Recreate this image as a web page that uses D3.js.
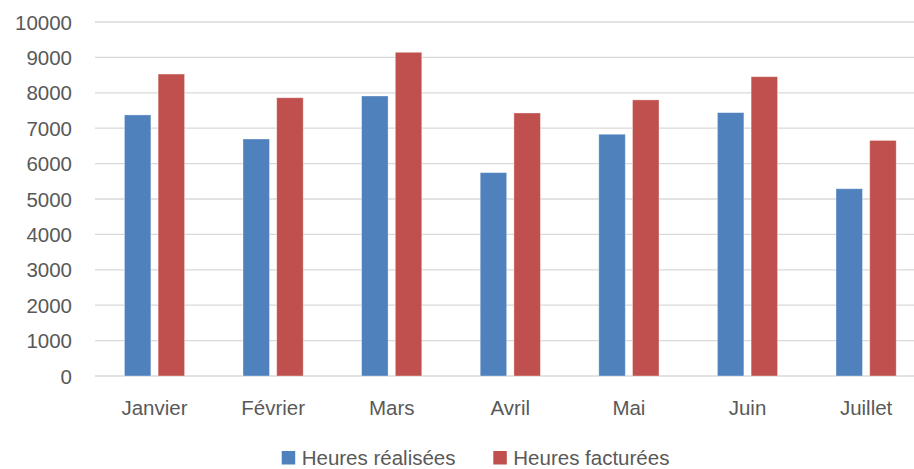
<!DOCTYPE html>
<html><head><meta charset="utf-8">
<script src="https://cdn.jsdelivr.net/npm/d3@7"></script>
<style>html,body{margin:0;padding:0;background:#fff;overflow:hidden}</style>
</head><body>
<script>
const categories = ["Janvier","Février","Mars","Avril","Mai","Juin","Juillet"];
const seriesNames = ["Heures réalisées","Heures facturées"];
const realisees = [7375, 6695, 7910, 5745, 6830, 7440, 5290];
const facturees = [8530, 7860, 9145, 7430, 7800, 8455, 6655];
const yTicks = [0,1000,2000,3000,4000,5000,6000,7000,8000,9000,10000];
const colors = ["#4F81BD","#C0504D"];

const W = 914, H = 469;
const svg = d3.select("body").append("svg").attr("width", W).attr("height", H);
const font = "'Liberation Sans', Arial, sans-serif";
const textColor = "#595959";

const x0 = d3.scaleBand().domain(categories).range([95.2, 925.4]).padding(0);
const x1 = d3.scaleBand().domain(seriesNames).range([0, 60.2]).paddingInner(0.214).paddingOuter(0);
const y = d3.scaleLinear().domain([0, 10000]).range([376, 22]);

// gridlines
svg.append("g").selectAll("line").data(yTicks).join("line")
  .attr("x1", 95).attr("x2", W)
  .attr("y1", d => y(d)).attr("y2", d => y(d))
  .attr("stroke", "#d9d9d9").attr("stroke-width", 1.3);

// y axis labels
const yAxis = d3.axisLeft(y).tickValues(yTicks).tickSize(0).tickPadding(0).tickFormat(d3.format("d"));
const ya = svg.append("g").attr("transform", "translate(72,0)").call(yAxis);
ya.select(".domain").remove();
ya.selectAll("text").attr("fill", textColor).style("font-family", font).style("font-size", "20.5px").attr("dy", "0.35em");

// bars
const data = categories.map((c, i) => ({cat: c, vals: [realisees[i], facturees[i]]}));
const groups = svg.append("g").selectAll("g").data(data).join("g")
  .attr("transform", d => `translate(${x0(d.cat) + x0.bandwidth()/2 - 30.1},0)`);
groups.selectAll("rect").data(d => d.vals.map((v, j) => ({name: seriesNames[j], v, j}))).join("rect")
  .attr("x", d => x1(d.name)).attr("width", x1.bandwidth())
  .attr("y", d => y(d.v)).attr("height", d => y(0) - y(d.v))
  .attr("fill", d => colors[d.j])
  .attr("stroke", "#ffffff").attr("stroke-opacity", 0.45).attr("stroke-width", 0.8);

// x axis labels
const xAxis = d3.axisBottom(x0).tickSize(0).tickPadding(0);
const xa = svg.append("g").attr("transform", "translate(0,415)").call(xAxis);
xa.select(".domain").remove();
xa.selectAll("text").attr("fill", textColor).style("font-family", font).style("font-size", "20.5px").attr("dy", "0");

// legend
const legend = svg.append("g");
const legX = [281.7, 493.3];
seriesNames.forEach((n, i) => {
  legend.append("rect").attr("x", legX[i]).attr("y", 451).attr("width", 13.5).attr("height", 13.5).attr("fill", colors[i]);
  legend.append("text").attr("x", legX[i] + 20).attr("y", 464.5).text(n)
    .attr("fill", textColor).style("font-family", font).style("font-size", "20.5px");
});
</script>
</body></html>
